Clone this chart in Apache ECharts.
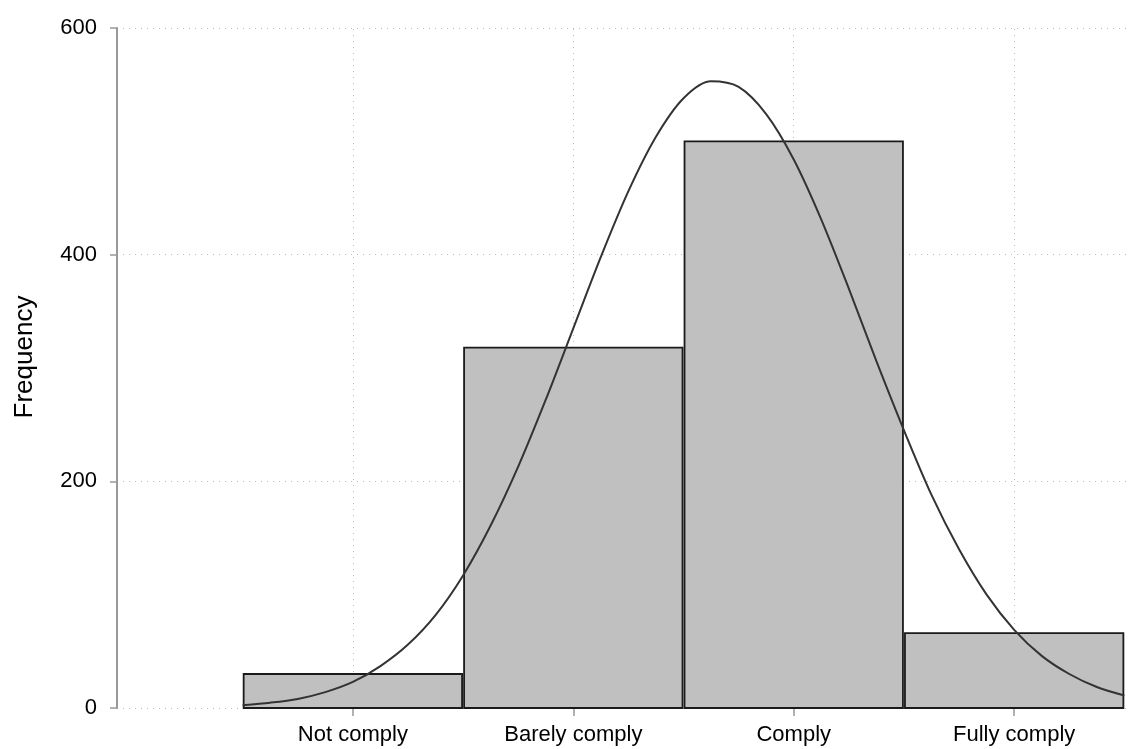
<!DOCTYPE html>
<html>
<head>
<meta charset="utf-8">
<script src="https://cdn.jsdelivr.net/npm/echarts@6/dist/echarts.min.js"></script>
<style>
  html, body { margin: 0; padding: 0; background: #fff; }
  #chart { width: 1131px; height: 749px; }
</style>
</head>
<body>
<div id="chart"></div>
<script>
// categories at x = 1..4
const categories = ['Not comply', 'Barely comply', 'Comply', 'Fully comply']
const categoryPos = [1, 2, 3, 4]
// bar heights (frequency)
const frequency = [30, 318, 500, 66]
// normal density overlay
const curveX = [0.5, 0.625, 0.75, 0.875, 1, 1.125, 1.25, 1.375, 1.5, 1.625, 1.75, 1.875,
  2, 2.125, 2.25, 2.375, 2.5, 2.625, 2.75, 2.875, 3, 3.125, 3.25, 3.375,
  3.5, 3.625, 3.75, 3.875, 4, 4.125, 4.25, 4.375, 4.5]
const curveY = [2.5, 4.7, 8, 14, 23, 37, 56, 82, 117, 161, 213, 272,
  335, 398, 456, 504, 538, 553, 548, 524, 484, 431, 370, 306,
  245, 188, 140, 100, 69, 46, 30, 18.5, 11]
const yTicks = [0, 200, 400, 600]

const font = '"Liberation Sans", Arial, Helvetica, sans-serif'

const chart = echarts.init(document.getElementById('chart'))

const barData = categoryPos.map((x, i) => [x, frequency[i]])
const curveData = curveX.map((x, i) => [x, curveY[i]])

const option = {
  animation: false,
  backgroundColor: '#fff',
  grid: { left: 117, right: 0, top: 28, bottom: 41, containLabel: false, outerBoundsMode: 'none' },
  xAxis: {
    type: 'value',
    min: -0.07,
    max: 4.53,
    axisLine: { show: false },
    axisTick: {
      show: true,
      customValues: categoryPos,
      length: 8,
      lineStyle: { color: '#999', width: 1.5 },
    },
    axisLabel: {
      customValues: categoryPos,
      color: '#000',
      fontSize: 22,
      fontFamily: font,
      margin: 16,
      formatter: (v) => categories[categoryPos.indexOf(Math.round(v))] || '',
    },
    splitLine: { show: false },
  },
  yAxis: {
    type: 'value',
    min: yTicks[0],
    max: yTicks[yTicks.length - 1],
    interval: 200,
    name: 'Frequency',
    nameLocation: 'middle',
    nameGap: 79,
    nameMoveOverlap: false,
    nameTextStyle: { color: '#000', fontSize: 26, fontFamily: font, padding: [0, 0, 0, 22] },
    axisLine: { show: true, onZero: false, lineStyle: { color: '#999', width: 2 } },
    axisTick: { show: true, length: 7, lineStyle: { color: '#999', width: 1.5 } },
    axisLabel: { color: '#000', fontSize: 22, fontFamily: font, margin: 20 },
    splitLine: { show: true, lineStyle: { color: '#bbb', width: 1, type: [1, 5] } },
  },
  series: [
    {
      type: 'custom',
      data: barData,
      z: 2,
      renderItem: (params, api) => {
        const x = api.value(0)
        const y = api.value(1)
        const p0 = api.coord([x - 0.5, y])
        const p1 = api.coord([x + 0.5, 0])
        return {
          type: 'rect',
          shape: { x: p0[0] + 1, y: p0[1], width: p1[0] - p0[0] - 2, height: p1[1] - p0[1] },
          style: { fill: '#c0c0c0', stroke: '#1a1a1a', lineWidth: 1.8 },
        }
      },
    },
    {
      type: 'line',
      data: curveData,
      smooth: 0.3,
      symbol: 'none',
      z: 3,
      lineStyle: { color: '#333', width: 2 },
      markLine: {
        silent: true,
        symbol: 'none',
        label: { show: false },
        lineStyle: { color: '#bbb', width: 1, type: [1, 5] },
        z: 1,
        data: categoryPos.map((x) => [
          { coord: [x, 0] },
          { coord: [x, 600] },
        ]),
      },
    },
  ],
}

chart.setOption(option)
</script>
</body>
</html>
